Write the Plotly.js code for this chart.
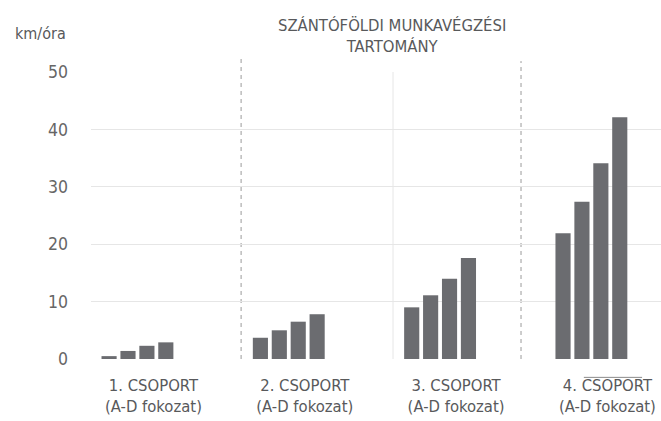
<!DOCTYPE html>
<html>
<head>
<meta charset="utf-8">
<script src="https://cdn.plot.ly/plotly-3.0.1.min.js"></script>
<style>
  html, body { margin: 0; padding: 0; background: #fff; }
  #chart { width: 661px; height: 421px; }
</style>
</head>
<body>
<div id="chart"></div>
<script>
// csoportok (x tengely)
const groups = [
  "1. CSOPORT<br>(A-D fokozat)",
  "2. CSOPORT<br>(A-D fokozat)",
  "3. CSOPORT<br>(A-D fokozat)",
  "4. CSOPORT<br>(A-D fokozat)"
];
// fokozatok A..D sebessége, km/óra
const gearA = [0.5, 3.7, 9.0, 21.9];
const gearB = [1.4, 5.0, 11.1, 27.4];
const gearC = [2.3, 6.5, 14.0, 34.1];
const gearD = [2.9, 7.8, 17.6, 42.1];
const gearNames = ["A", "B", "C", "D"];
const yTicks = [0, 10, 20, 30, 40, 50];

const FONT = '"Liberation Sans Narrow", "DejaVu Sans Condensed", Arial, sans-serif';
const TEXT = "#58595b";
const BAR = "#6b6c70";

const data = [gearA, gearB, gearC, gearD].map((vals, i) => ({
  type: "bar",
  x: groups,
  y: vals,
  name: gearNames[i],
  marker: { color: BAR },
  hoverinfo: "y"
}));

const dashed = { color: "#9a9a9a", width: 1, dash: "4px,4px" };

const layout = {
  width: 661,
  height: 421,
  margin: { l: 91, r: 0, t: 72, b: 62 },
  paper_bgcolor: "#fff",
  plot_bgcolor: "#fff",
  showlegend: false,
  barmode: "group",
  bargap: 0.5,
  bargroupgap: 0.2,
  font: { family: FONT, color: TEXT, size: 15 },
  xaxis: {
    type: "category",
    range: [-0.307, 3.46],
    showgrid: false,
    zeroline: false,
    showline: false,
    ticks: "",
    ticklabelshift: 16,
    ticklabelstandoff: 14,
    tickfont: { family: FONT, size: 16.5, color: TEXT }
  },
  yaxis: {
    range: [0, 50],
    tickvals: yTicks,
    showgrid: true,
    gridcolor: "#e6e6e6",
    gridwidth: 1,
    zeroline: true,
    zerolinecolor: "rgba(0,0,0,0)",
    showline: false,
    ticks: "",
    ticklabelstandoff: 22,
    tickfont: { family: FONT, size: 17.5, color: "#666" }
  },
  annotations: [
    {
      text: "SZÁNTÓFÖLDI MUNKAVÉGZÉSI<br>TARTOMÁNY",
      xref: "paper", yref: "paper",
      x: 0.528, y: 1.124,
      xanchor: "center", yanchor: "middle",
      showarrow: false,
      font: { family: FONT, size: 16.5, color: TEXT }
    },
    {
      text: "km/óra",
      xref: "paper", yref: "paper",
      x: -0.089, y: 1.135,
      xanchor: "center", yanchor: "middle",
      showarrow: false,
      font: { family: FONT, size: 16, color: TEXT }
    }
  ],
  shapes: [
    { type: "line", xref: "x", yref: "paper", x0: 0.685, x1: 0.685, y0: 0, y1: 1.056, line: dashed, layer: "below" },
    { type: "line", xref: "x", yref: "paper", x0: 2.535, x1: 2.535, y0: 0, y1: 1.038, line: dashed, layer: "below" },
    { type: "line", xref: "x", yref: "paper", x0: 1.689, x1: 1.689, y0: 0, y1: 1, line: { color: "#e6e6e6", width: 1 }, layer: "below" },
    { type: "line", xref: "x", yref: "paper", x0: 2.950, x1: 3.335, y0: -0.064, y1: -0.064, line: { color: "#8a8a8a", width: 1 } }
  ]
};

Plotly.newPlot("chart", data, layout, { displayModeBar: false, staticPlot: true });
</script>
</body>
</html>
